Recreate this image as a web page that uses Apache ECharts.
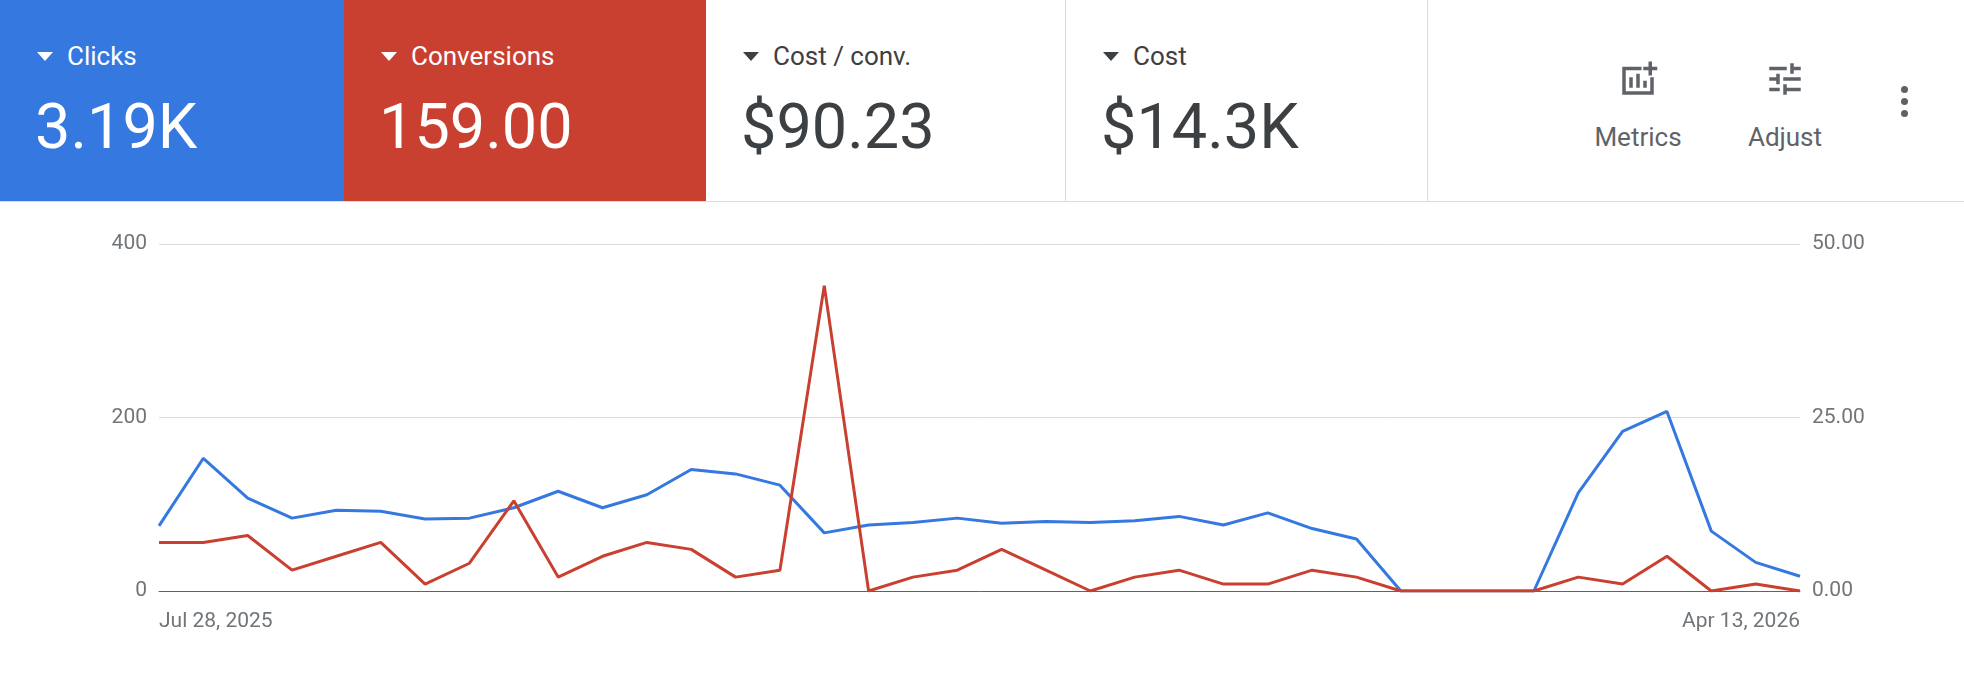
<!DOCTYPE html>
<html>
<head>
<meta charset="utf-8">
<script src="https://cdn.jsdelivr.net/npm/echarts@6/dist/echarts.min.js"></script>
<style>
  body { margin: 0; width: 1964px; height: 688px; background: #fff; font-family: Roboto, "Noto Sans", sans-serif; overflow: hidden; }
  #head { position: absolute; left: 0; top: 0; width: 1964px; height: 201px; border-bottom: 1px solid #dadce0; }
  .tile { position: absolute; top: 0; height: 201px; box-sizing: border-box; }
  .lab { position: absolute; left: 37px; top: 41px; font-size: 26px; }
  .lab:before { content: ""; display: inline-block; border-left: 8px solid transparent; border-right: 8px solid transparent; border-top: 9px solid currentColor; margin-right: 14px; vertical-align: middle; position: relative; top: -2px; }
  .num { position: absolute; left: 35px; top: 90px; font-size: 63px; }
  .w { color: #3c4043; border-right: 1px solid #dadce0; }
  .btn { position: absolute; top: 58px; text-align: center; color: #5f6368; font-size: 26px; line-height: 46px; }
  #chart { position: absolute; left: 0; top: 201px; width: 1964px; height: 487px; }
</style>
</head>
<body>
<div id="head">
  <div class="tile" style="left:0;width:344px;background:#3478e0;color:#fff"><div class="lab">Clicks</div><div class="num">3.19K</div></div>
  <div class="tile" style="left:344px;width:362px;background:#c94030;color:#fff"><div class="lab">Conversions</div><div class="num">159.00</div></div>
  <div class="tile w" style="left:706px;width:360px"><div class="lab">Cost / conv.</div><div class="num">$90.23</div></div>
  <div class="tile w" style="left:1066px;width:362px"><div class="lab">Cost</div><div class="num">$14.3K</div></div>
  <div class="btn" style="left:1583px;width:110px">
    <svg width="42" height="42" viewBox="0 0 24 24"><path fill="#5f6368" d="M3 5h11v2H5v12h14v-8h2v10H3zM7 11h2v6H7zm4-2h2v8h-2zm4 4h2v4h-2zM18 2h2v3h3v2h-3v3h-2V7h-3V5h3z"/></svg><br>Metrics</div>
  <div class="btn" style="left:1730px;width:110px">
    <svg width="42" height="42" viewBox="0 0 24 24"><path fill="#5f6368" d="M3 17v2h6v-2H3zM3 5v2h10V5H3zm10 16v-2h8v-2h-8v-2h-2v6h2zM7 9v2H3v2h4v2h2V9H7zm14 4v-2H11v2h10zm-6-4h2V7h4V5h-4V3h-2v6z"/></svg><br>Adjust</div>
  <div style="position:absolute;left:1901px;top:86px;width:7px">
    <div style="width:7px;height:7px;border-radius:4px;background:#5f6368;margin-bottom:5px"></div>
    <div style="width:7px;height:7px;border-radius:4px;background:#5f6368;margin-bottom:5px"></div>
    <div style="width:7px;height:7px;border-radius:4px;background:#5f6368"></div>
  </div>
</div>
<div id="chart"></div>
<script>
var weeks = ['Jul 28, 2025','Aug 4, 2025','Aug 11, 2025','Aug 18, 2025','Aug 25, 2025','Sep 1, 2025','Sep 8, 2025','Sep 15, 2025','Sep 22, 2025','Sep 29, 2025',
  'Oct 6, 2025','Oct 13, 2025','Oct 20, 2025','Oct 27, 2025','Nov 3, 2025','Nov 10, 2025','Nov 17, 2025','Nov 24, 2025','Dec 1, 2025','Dec 8, 2025',
  'Dec 15, 2025','Dec 22, 2025','Dec 29, 2025','Jan 5, 2026','Jan 12, 2026','Jan 19, 2026','Jan 26, 2026','Feb 2, 2026','Feb 9, 2026','Feb 16, 2026',
  'Feb 23, 2026','Mar 2, 2026','Mar 9, 2026','Mar 16, 2026','Mar 23, 2026','Mar 30, 2026','Apr 6, 2026','Apr 13, 2026'];
var clicks = [75,153,107,84,93,92,83,84,96,115,96,111,140,135,122,67,76,79,84,78,80,79,81,86,76,90,72,60,0,0,0,0,113,184,207,69,33,17];
var conversions = [7,7,8,3,5,7,1,4,13,2,5,7,6,2,3,44,0,2,3,6,3,0,2,3,1,1,3,2,0,0,0,0,2,1,5,0,1,0];

var myChart = echarts.init(document.getElementById('chart'));
var axisText = { color: '#70757a', fontSize: 21, fontFamily: 'Roboto' };
var Option = {
    animation: false,
    grid: { left: 159, right: 164, top: 43, bottom: 97, containLabel: false },
    xAxis: {
        type: 'category', data: weeks, boundaryGap: false,
        axisLine: { lineStyle: { color: '#5f6368', width: 1 } },
        axisTick: { show: false },
        axisLabel: Object.assign({
            margin: 20,
            alignMinLabel: 'left', alignMaxLabel: 'right',
            interval: function (i) { return i === 0 || i === weeks.length - 1; }
        }, axisText)
    },
    yAxis: [{
        type: 'value', min: 0, max: 400, interval: 200,
        axisLine: { show: false }, axisTick: { show: false },
        splitLine: { lineStyle: { color: '#dadce0' } },
        axisLabel: Object.assign({ margin: 12 }, axisText)
    }, {
        type: 'value', min: 0, max: 50, interval: 25,
        axisLine: { show: false }, axisTick: { show: false },
        splitLine: { show: false },
        axisLabel: Object.assign({ margin: 12, formatter: function (v) { return v.toFixed(2); } }, axisText)
    }],
    series: [{
        name: 'Clicks', type: 'line', data: clicks, yAxisIndex: 0,
        symbol: 'none', lineStyle: { color: '#3478e0', width: 3 }, z: 3
    }, {
        name: 'Conversions', type: 'line', data: conversions, yAxisIndex: 1,
        symbol: 'none', lineStyle: { color: '#c94030', width: 3 }, z: 4
    }]
};
myChart.setOption(Option);
</script>
</body>
</html>
